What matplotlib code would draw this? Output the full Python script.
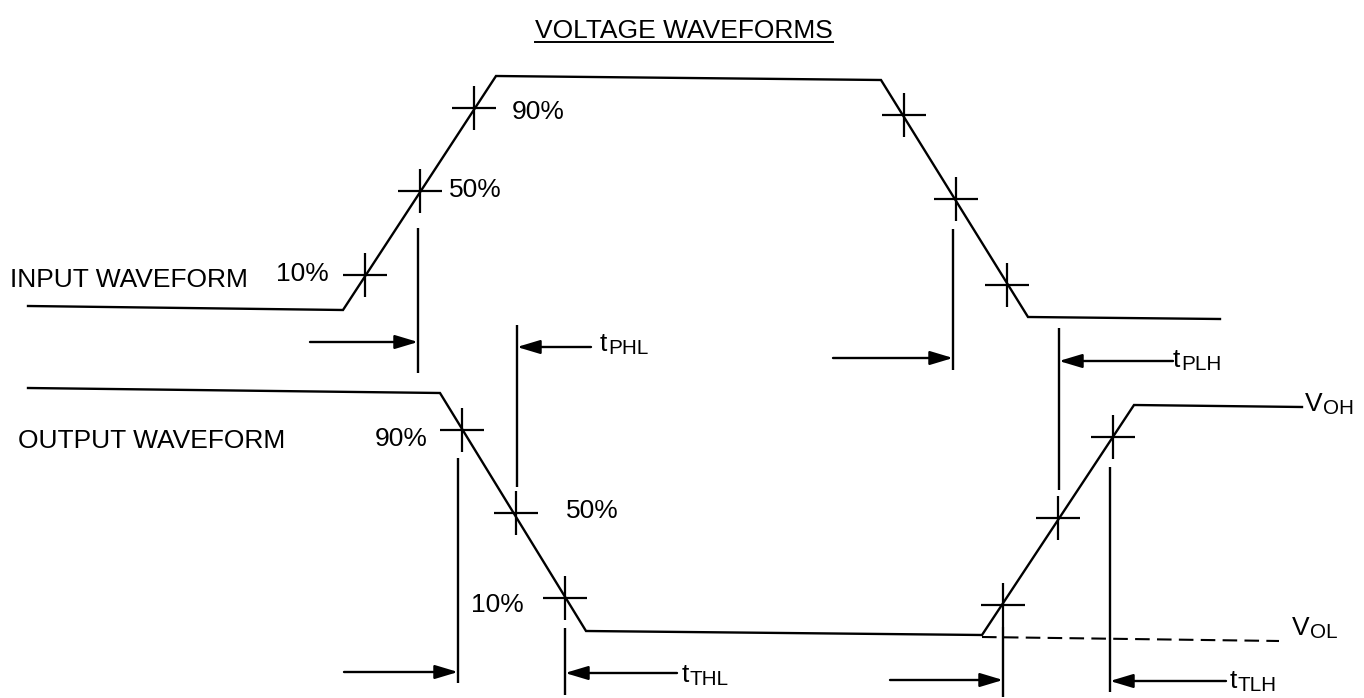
import matplotlib
matplotlib.use("Agg")
import matplotlib.pyplot as plt
from matplotlib.patches import FancyArrowPatch

plt.rcParams['font.family'] = ['Liberation Sans', 'DejaVu Sans']

# ---- waveform vertices (pixel-space diagram coordinates) ----
input_x = [28, 343, 496, 881, 1028, 1220]
input_y = [306, 310, 76, 80, 317, 319]
output_x = [28, 440, 586, 982, 1134, 1302]
output_y = [388, 393, 631, 635, 405, 407]
vol_x = [982, 1279]
vol_y = [637, 641]

# 10/50/90 % crossing marks
input_cross_x = [365, 420, 474, 904, 956, 1007]
input_cross_y = [275, 191, 108, 115, 199, 285]
output_cross_x = [462, 516, 565, 1003, 1058, 1113]
output_cross_y = [430, 513, 598, 605, 518, 437]

# timing reference lines: x, y_top, y_bottom
ref_x = [418, 517, 953, 1059, 458, 565, 1003, 1110]
ref_top = [228, 325, 229, 328, 458, 628, 627, 467]
ref_bot = [373, 487, 370, 490, 683, 695, 697, 692]
# arrows: start x, y (end at ref line)
arrow_from = [310, 591, 833, 1173, 344, 677, 890, 1226]
arrow_y = [342, 347, 358, 361, 672, 673, 680, 681]

# labels (main text + subscript)
label_main = ["INPUT WAVEFORM", "10%", "50%", "90%", "OUTPUT WAVEFORM", "90%", "50%", "10%",
              "t", "t", "t", "t", "V", "V"]
label_sub = ["", "", "", "", "", "", "", "",
             "PHL", "PLH", "THL", "TLH", "OH", "OL"]
label_x = [10, 276, 449, 512, 18, 375, 566, 471, 600, 1173, 682, 1230, 1305, 1292]
label_y = [287, 281, 197, 119, 448, 446, 518, 612, 351, 367, 682, 688, 411, 635]
title = "VOLTAGE WAVEFORMS"

W, H = 1364, 698
fig = plt.figure(figsize=(W / 100, H / 100), dpi=100)
ax = fig.add_axes([0, 0, 1, 1])
ax.set_xlim(0, W)
ax.set_ylim(H, 0)
ax.axis('off')

lw = 1.7
ax.plot(input_x, input_y, color='black', lw=lw, solid_joinstyle='miter')
ax.plot(output_x, output_y, color='black', lw=lw, solid_joinstyle='miter')
ax.plot(vol_x, vol_y, color='black', lw=1.5, dashes=(7, 3.5))

ax.plot(input_cross_x, input_cross_y, ls='none', marker='+', markersize=32,
        markeredgewidth=1.6, color='black')
ax.plot(output_cross_x, output_cross_y, ls='none', marker='+', markersize=32,
        markeredgewidth=1.6, color='black')

ax.vlines(ref_x, ref_top, ref_bot, color='black', lw=lw)
for x0, xr, y in zip(arrow_from, ref_x, arrow_y):
    ax.add_patch(FancyArrowPatch((x0, y), (xr, y),
                                 arrowstyle='-|>,head_length=1.0,head_width=0.3',
                                 mutation_scale=14, lw=lw, color='black',
                                 shrinkA=0, shrinkB=0))

fs = 19
main_texts = []
for s, x, y in zip(label_main, label_x, label_y):
    main_texts.append(ax.text(x, y, s, fontsize=fs, ha='left', va='baseline', color='black'))

t = ax.text(535, 38, title, fontsize=fs, ha='left', va='baseline', color='black')
fig.canvas.draw()
inv = ax.transData.inverted()
for mt, sub, y in zip(main_texts, label_sub, label_y):
    if sub:
        bb = mt.get_window_extent().transformed(inv)
        ax.text(bb.x1 + 0.5, y + 3, sub, fontsize=fs * 0.78, ha='left', va='baseline',
                color='black')
bb = t.get_window_extent().transformed(inv)
ax.plot([bb.x0, bb.x1], [42, 42], color='black', lw=1.4)

fig.savefig("out.png", dpi=100, facecolor='white')
